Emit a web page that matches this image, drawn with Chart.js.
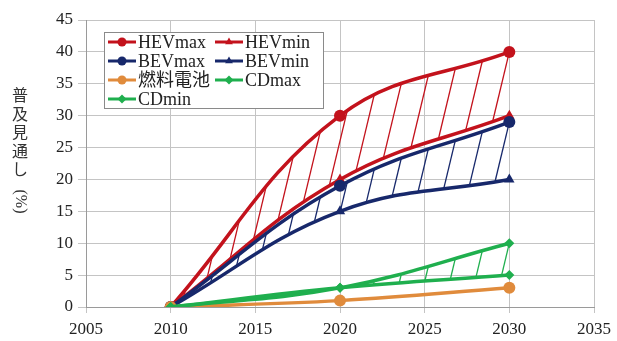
<!DOCTYPE html>
<html>
<head>
<meta charset="utf-8">
<script src="https://cdn.jsdelivr.net/npm/chart.js@4"></script>
<style>
  html, body { margin: 0; padding: 0; background: #fff; }
  #wrap { width: 617px; height: 341px; }
</style>
</head>
<body>
<div id="wrap"><canvas id="my-chart" width="617" height="341"></canvas></div>
<script>
const years = [2010, 2020, 2030];
const hevMax = [0, 30, 40];
const hevMin = [0, 20, 30];
const bevMax = [0, 19, 29];
const bevMin = [0, 15, 20];
const fuelCell = [0, 1, 3];
const cdMax = [0, 3, 10];
const cdMin = [0, 3, 5];
const labels = ["HEVmax", "HEVmin", "BEVmax", "BEVmin", "燃料電池", "CDmax", "CDmin"];
const yTitle = ["普", "及", "見", "通", "し", "(%)"];

const RED = "#c3121c";
const NAVY = "#17286b";
const ORANGE = "#e08b3c";
const GREEN = "#1faf4e";
const FONT = "'Liberation Serif', 'Noto Sans CJK JP', serif";
Chart.defaults.font.family = FONT;

let seriesCount = 0;
function series(label, values, color, style) {
  // later series are drawn on top, like the original spreadsheet chart
  const order = 10 - seriesCount++;
  return {
    label: label,
    data: years.map((y, i) => ({ x: y, y: values[i] })),
    order: order,
    borderColor: color,
    backgroundColor: color,
    borderWidth: 3.5,
    tension: 0.4,
    pointStyle: style,
    pointRadius: style === "rectRot" ? 5 : 6,
    pointBorderWidth: 0,
    fill: false,
  };
}

const data = {
  datasets: [
    series(labels[0], hevMax, RED, "circle"),
    series(labels[1], hevMin, RED, "triangle"),
    series(labels[2], bevMax, NAVY, "circle"),
    series(labels[3], bevMin, NAVY, "triangle"),
    series(labels[4], fuelCell, ORANGE, "circle"),
    series(labels[5], cdMax, GREEN, "rectRot"),
    series(labels[6], cdMin, GREEN, "rectRot"),
  ],
};

// pairs of [max, min] dataset index to hatch between
const hatchPairs = [[0, 1, RED], [2, 3, NAVY], [5, 6, GREEN]];

function curveY(pts, px) {
  for (let i = 0; i < pts.length - 1; i++) {
    const a = pts[i], b = pts[i + 1];
    if (px >= a.x - 0.01 && px <= b.x + 0.01) {
      const x0 = a.x, x1 = a.cp2x, x2 = b.cp1x, x3 = b.x;
      const y0 = a.y, y1 = a.cp2y, y2 = b.cp1y, y3 = b.y;
      let lo = 0, hi = 1, t = 0.5;
      for (let k = 0; k < 40; k++) {
        t = (lo + hi) / 2;
        const u = 1 - t;
        const xt = u*u*u*x0 + 3*u*u*t*x1 + 3*u*t*t*x2 + t*t*t*x3;
        if (xt < px) lo = t; else hi = t;
      }
      const u = 1 - t;
      return u*u*u*y0 + 3*u*u*t*y1 + 3*u*t*t*y2 + t*t*t*y3;
    }
  }
  return pts[pts.length - 1].y;
}

const hatchPlugin = {
  id: "hatch",
  beforeDatasetsDraw(chart) {
    const ctx = chart.ctx;
    const step = 27, k = 0.24;
    ctx.save();
    ctx.lineWidth = 1.3;
    hatchPairs.forEach(([hi, lo, color]) => {
      const top = chart.getDatasetMeta(hi).data;
      const bot = chart.getDatasetMeta(lo).data;
      const xStart = top[0].x, xEnd = top[top.length - 1].x;
      ctx.strokeStyle = color;
      for (let tx = xEnd; tx > xStart + 2; tx -= step) {
        const ty = curveY(top, tx);
        let bx = tx, by = ty;
        for (let n = 0; n < 30; n++) {
          by = curveY(bot, Math.max(bx, xStart));
          bx = tx - k * (by - ty);
        }
        if (by - ty < 3 || bx < xStart) continue;
        ctx.beginPath();
        ctx.moveTo(bx, by);
        ctx.lineTo(tx, ty);
        ctx.stroke();
      }
    });
    ctx.restore();
  },
};

const legendPlugin = {
  id: "boxLegend",
  afterDraw(chart) {
    const ctx = chart.ctx;
    const area = chart.chartArea;
    const bx = area.left + 18, by = area.top + 12, bw = 219, bh = 76;
    ctx.save();
    ctx.fillStyle = "#fff";
    ctx.fillRect(bx, by, bw, bh);
    ctx.strokeStyle = "#8a8a8a";
    ctx.lineWidth = 1;
    ctx.strokeRect(bx + 0.5, by + 0.5, bw, bh);
    chart.data.datasets.forEach((ds, i) => {
      const col = i % 2, row = Math.floor(i / 2);
      const x0 = bx + 4 + col * 107;
      const y0 = by + 10 + row * 19;
      ctx.strokeStyle = ds.borderColor;
      ctx.lineWidth = 3;
      ctx.beginPath();
      ctx.moveTo(x0, y0);
      ctx.lineTo(x0 + 28, y0);
      ctx.stroke();
      ctx.fillStyle = ds.backgroundColor;
      Chart.helpers.drawPoint(ctx, { pointStyle: ds.pointStyle, radius: 4.5, borderWidth: 0 }, x0 + 14, y0);
      ctx.fillStyle = "#222";
      ctx.font = "18px " + FONT;
      ctx.textBaseline = "middle";
      ctx.fillText(ds.label, x0 + 30, y0 + 1);
    });
    ctx.restore();
  },
};

const yTitlePlugin = {
  id: "vTitle",
  afterDraw(chart) {
    const ctx = chart.ctx;
    ctx.save();
    ctx.fillStyle = "#333";
    ctx.font = "16px " + FONT;
    ctx.textAlign = "center";
    ctx.textBaseline = "middle";
    let y = 97;
    yTitle.forEach((ch) => {
      if (ch.length > 1) {
        ctx.save();
        ctx.translate(20, y + 12);
        ctx.rotate(Math.PI / 2);
        ctx.fillText(ch, 0, 0);
        ctx.restore();
      } else {
        ctx.fillText(ch, 20, y);
        y += 18.5;
      }
    });
    ctx.restore();
  },
};

const config = {
  type: "line",
  data: data,
  options: {
    responsive: false,
    animation: false,
    layout: { padding: { top: 20, right: 19, left: 0, bottom: 0 } },
    plugins: {
      legend: { display: false },
      tooltip: { enabled: false },
    },
    scales: {
      x: {
        type: "linear",
        min: 2005,
        max: 2035,
        ticks: { stepSize: 5, color: "#222", font: { family: FONT, size: 17 }, padding: 6, callback: (v) => String(v) },
        grid: { color: "#c4c4c4", tickLength: 6, tickColor: "#c4c4c4" },
        border: { color: "#9a9a9a" },
        afterFit(s) { s.height = 34; },
      },
      y: {
        min: 0,
        max: 45,
        ticks: { stepSize: 5, color: "#222", font: { family: FONT, size: 17 }, padding: 5 },
        grid: { color: "#c4c4c4", tickLength: 8, tickColor: "#c4c4c4" },
        border: { color: "#9a9a9a" },
        afterFit(s) { s.width = 86; },
      },
    },
  },
  plugins: [hatchPlugin, legendPlugin, yTitlePlugin],
};

const myChart = new Chart(document.getElementById("my-chart"), config);
</script>
</body>
</html>
